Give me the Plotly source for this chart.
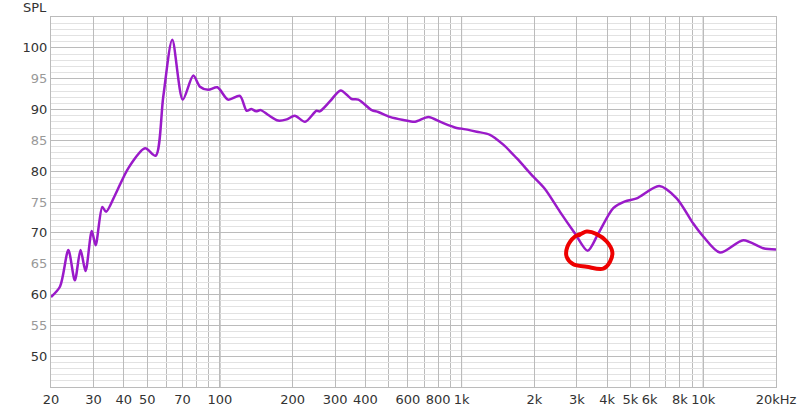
import plotly.graph_objects as go
import math

# Frequency response (Hz, dB SPL)
freq_hz = [20, 21.8, 23.6, 25.1, 26.5, 27.8, 29.5, 30.6, 32.6, 33.8, 36.8, 41.8, 49, 54.2,
           58.3, 63.5, 70.2, 77.6, 82.7, 89.5, 97.6, 108, 121, 129, 135, 141, 147.5, 158.5,
           174, 189, 204, 225, 251, 259, 285, 316, 351, 374, 425, 452, 505, 574, 642, 729,
           827, 954, 1000, 1155, 1311, 1488, 1690, 1981, 2213, 2554, 2946, 3325, 3680, 4244,
           4745, 5304, 6577, 7762, 9093, 10000, 11727, 14643, 17720, 20000]
spl_db = [59.6, 61.3, 67.2, 62.3, 67.2, 63.8, 70.3, 68.0, 74.2, 73.4, 76.1, 80.5, 83.7, 82.5,
          92.1, 101.3, 91.6, 95.5, 93.7, 93.2, 93.6, 91.6, 92.2, 89.8, 90.1, 89.7, 89.9, 89.1,
          88.2, 88.4, 89.0, 88.0, 89.8, 89.7, 91.3, 93.1, 91.7, 91.6, 89.9, 89.6, 88.8, 88.3, 88.0, 88.8,
          87.9, 87.0, 86.9, 86.4, 85.9, 84.3, 82.1, 79.1, 77.1, 73.4, 69.9, 67.1, 69.9, 74.0,
          75.1, 75.6, 77.6, 75.6, 71.5, 69.4, 66.8, 68.8, 67.5, 67.3]

# Hand-drawn red annotation loop around the dip (Hz, dB)
mark_hz = [3040, 3293, 3622, 3985, 4204, 4112, 3858, 3293, 2899, 2722, 2738, 2946, 3189]
mark_db = [69.5, 70.2, 69.8, 68.6, 66.9, 65.3, 64.2, 64.5, 64.9, 66.1, 67.7, 69.4, 70.0]

x_tick_vals = [20, 30, 40, 50, 70, 100, 200, 300, 400, 600, 800, 1000, 2000, 3000, 4000,
               5000, 6000, 8000, 10000, 20000]
x_tick_text = ["20", "30", "40", "50", "70", "100", "200", "300", "400", "600", "800", "1k",
               "2k", "3k", "4k", "5k", "6k", "8k", "10k", "20kHz"]
x_minor_vals = [60, 80, 90, 500, 700, 900, 7000, 9000]
x_decades = [100, 1000, 10000]
y_tick_vals = [50, 55, 60, 65, 70, 75, 80, 85, 90, 95, 100]

y_tick_text = [str(v) if v % 10 == 0 else '<span style="color:#999999">%d</span>' % v
               for v in y_tick_vals]

fig = go.Figure()
fig.add_trace(go.Scatter(x=freq_hz, y=spl_db, mode="lines",
                         line=dict(color="#9a1ac9", width=2.5, shape="spline", smoothing=0.8),
                         hoverinfo="skip", showlegend=False))
fig.add_trace(go.Scatter(x=mark_hz, y=mark_db, mode="lines",
                         line=dict(color="#ee0000", width=4, shape="spline", smoothing=1.0),
                         hoverinfo="skip", showlegend=False))

for d in x_decades:
    fig.add_shape(type="line", xref="x", yref="paper", x0=d, x1=d, y0=0, y1=1,
                  line=dict(color="#888888", width=1), layer="below")

fig.update_layout(
    width=800, height=411,
    margin=dict(l=51, r=24, t=17, b=24),
    paper_bgcolor="white", plot_bgcolor="white",
    font=dict(family="DejaVu Sans", size=13, color="#333333"),
    xaxis=dict(type="log", range=[math.log10(20), math.log10(20000)], automargin=False,
               tickmode="array", tickvals=x_tick_vals, ticktext=x_tick_text,
               showgrid=True, gridcolor="#bbbbbb", gridwidth=1, zeroline=False,
               showline=True, linecolor="#bbbbbb", mirror=True, ticks="",
               minor=dict(tickmode="array", tickvals=x_minor_vals, showgrid=True,
                          gridcolor="#bbbbbb", gridwidth=1, ticks=""),
               tickfont=dict(size=13, color="#333333")),
    yaxis=dict(range=[45, 105], tickmode="array", tickvals=y_tick_vals, ticktext=y_tick_text,
               automargin=False,
               showgrid=True, gridcolor="#bbbbbb", gridwidth=1, zeroline=False,
               showline=True, linecolor="#bbbbbb", mirror=True, ticks="",
               minor=dict(dtick=1, showgrid=True, gridcolor="#e2e2e2", gridwidth=1, ticks=""),
               tickfont=dict(size=13, color="#333333")),
    annotations=[dict(text="SPL", xref="paper", yref="paper", x=0, y=1,
                      xanchor="right", yanchor="bottom", xshift=-2, yshift=0,
                      showarrow=False, font=dict(size=13, color="#333333"))],
)

fig.write_html("out.html", config={"displayModeBar": False},
               post_script="document.body.style.margin='0';")
